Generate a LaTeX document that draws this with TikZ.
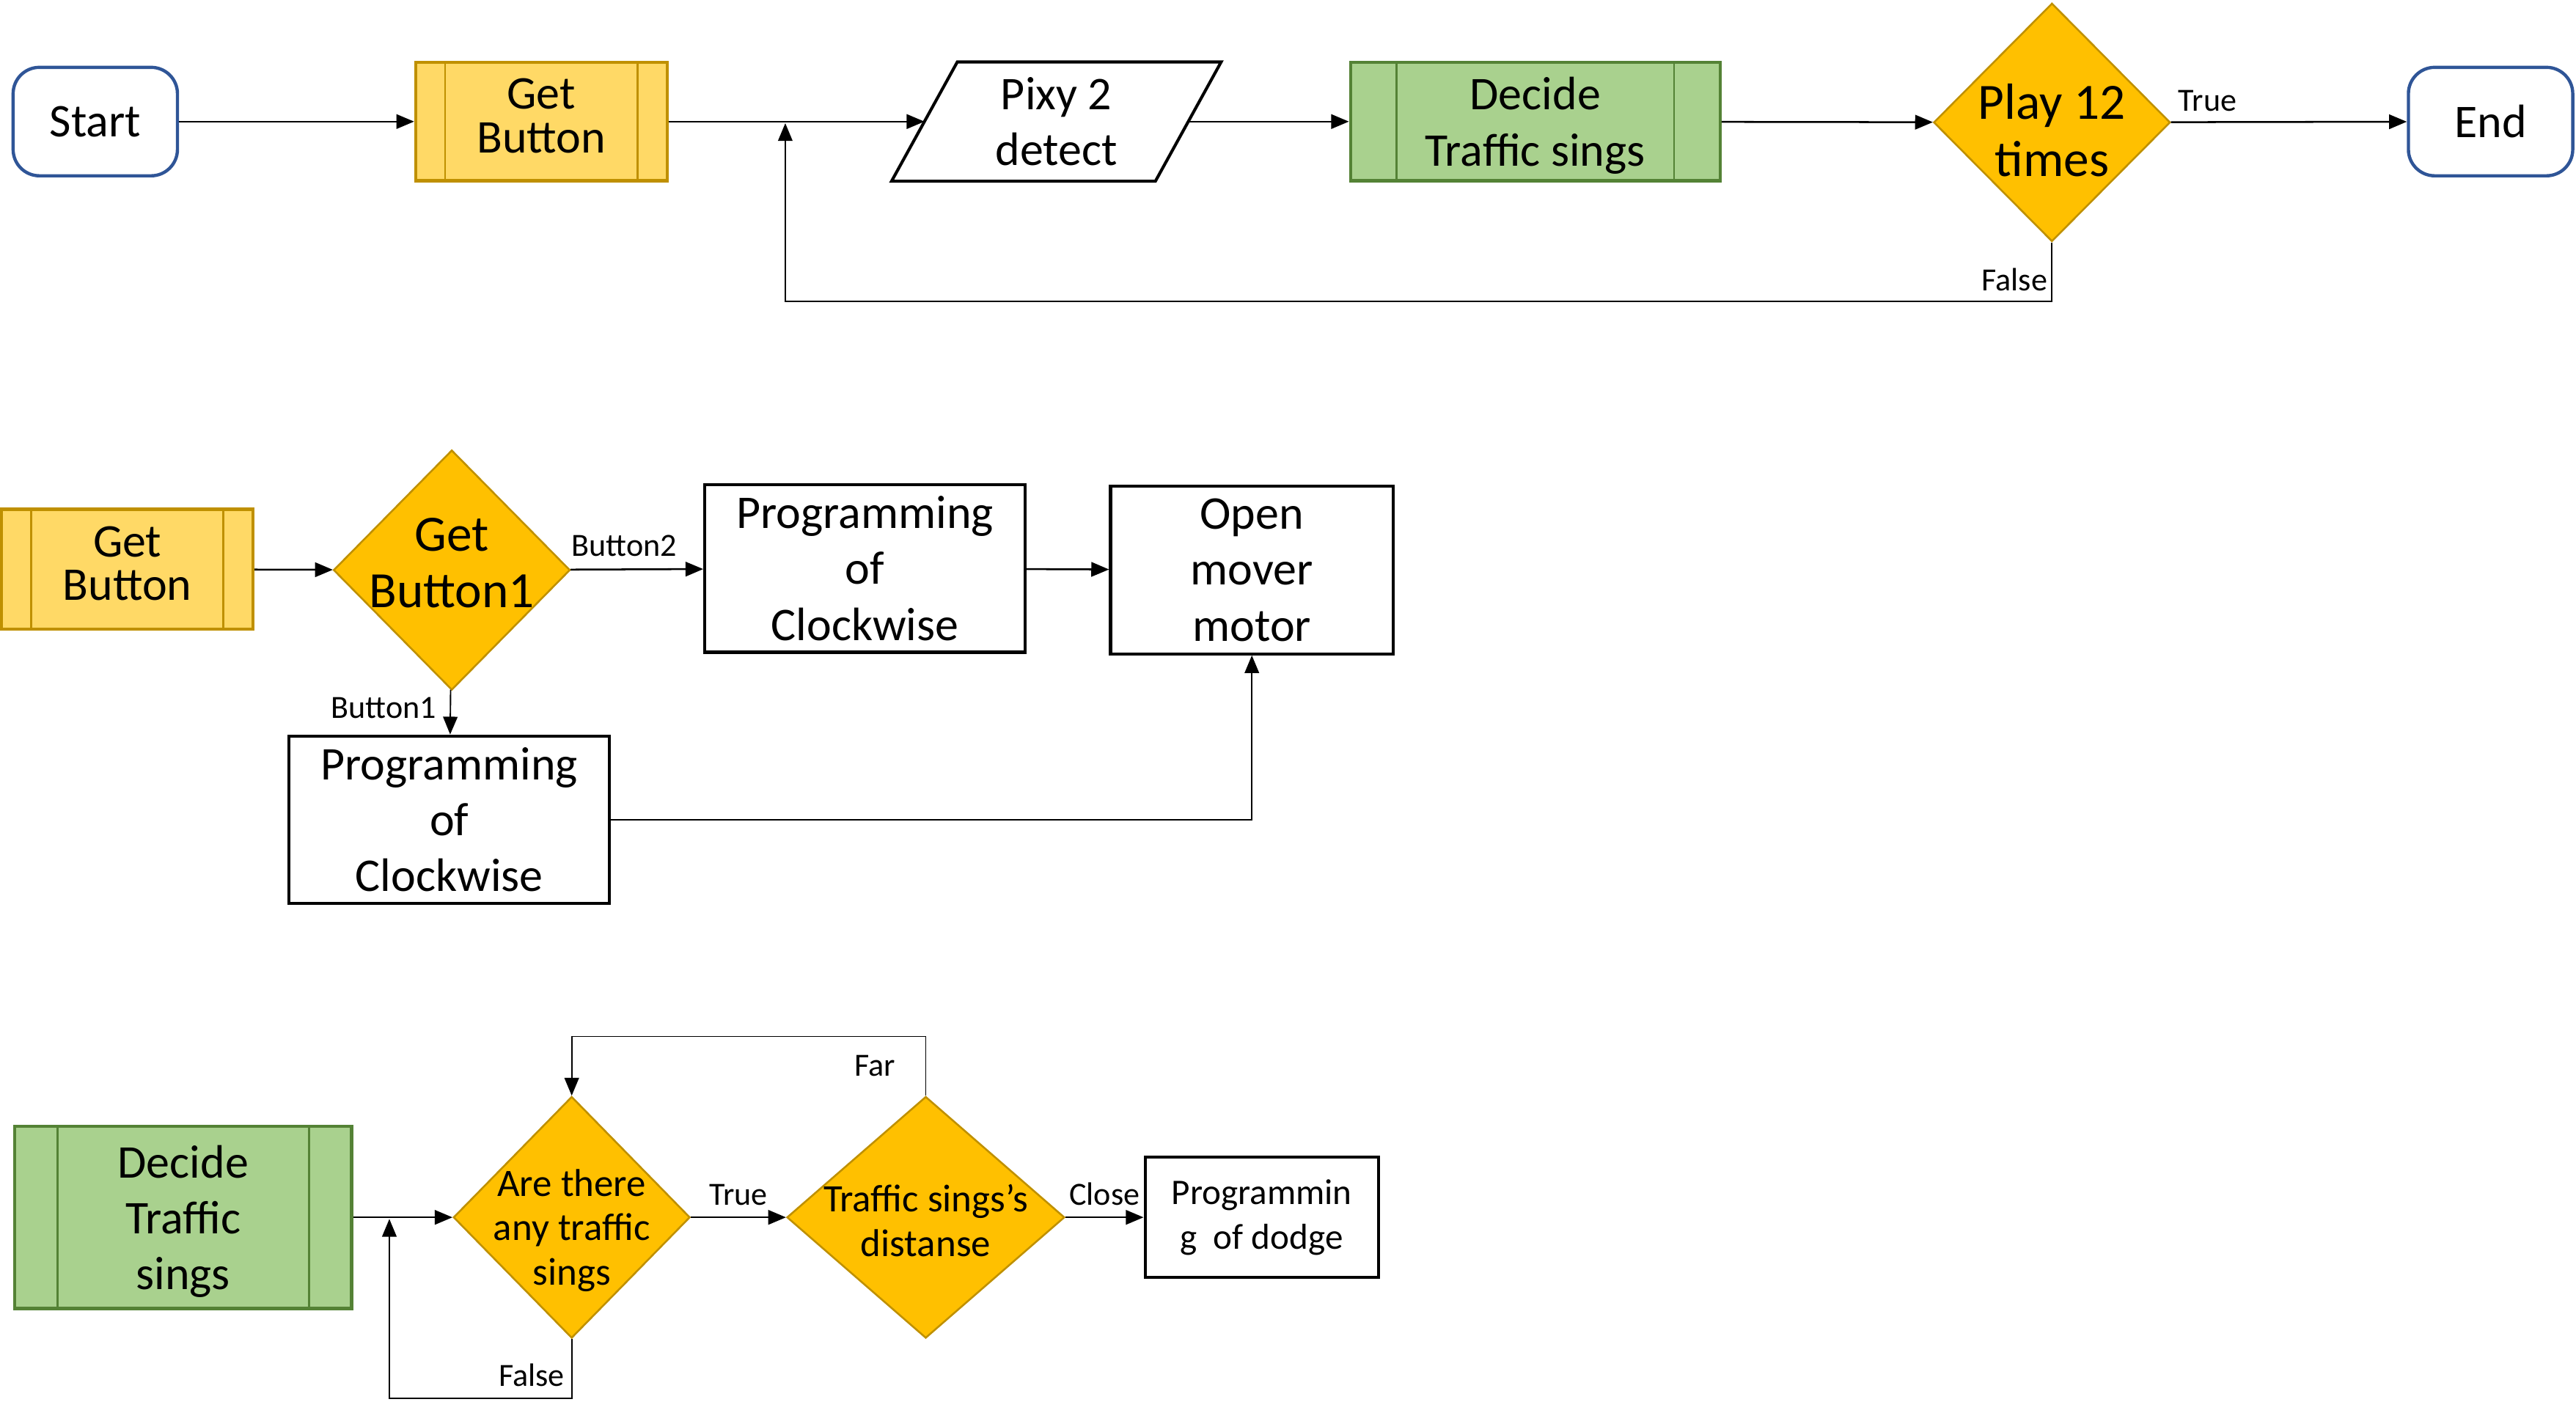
\documentclass[tikz,border=0pt]{standalone}
\usepackage{fontspec}
\setmainfont{Carlito}
\usetikzlibrary{arrows.meta,shapes.geometric}
\definecolor{gold}{HTML}{FFD966}
\definecolor{golddark}{HTML}{BF9000}
\definecolor{amber}{HTML}{FFC000}
\definecolor{leaf}{HTML}{A9D18E}
\definecolor{leafdark}{HTML}{548235}
\definecolor{navy}{HTML}{2F5597}
\newcommand{\boxfont}{\fontsize{20.3}{24.2}\selectfont}
\newcommand{\tightfont}{\fontsize{20.3}{19}\selectfont}
\newcommand{\decfont}{\fontsize{22}{24.5}\selectfont}
\newcommand{\midfont}{\fontsize{16.8}{19.2}\selectfont}
\newcommand{\dodgefont}{\fontsize{15.6}{19.2}\selectfont}
\newcommand{\lblfont}{\fontsize{14}{16}\selectfont}

\begin{document}
\begin{tikzpicture}[x=0.025cm,y=-0.025cm,
		every node/.style={font=\boxfont,align=center,inner sep=0pt},
		term/.style={draw=navy,line width=1.4pt,rounded corners=0.4cm,minimum width=2.5cm,minimum height=1.65cm},
		yel/.style={draw=golddark,fill=gold,line width=1.3pt,minimum width=3.825cm,minimum height=1.8cm,font=\tightfont,text depth=0.18cm,
			path picture={\draw[golddark,line width=0.8pt] ([xshift=0.45cm]path picture bounding box.north west) -- ([xshift=0.45cm]path picture bounding box.south west) ([xshift=-0.45cm]path picture bounding box.north east) -- ([xshift=-0.45cm]path picture bounding box.south east);}},
		grn/.style={draw=leafdark,fill=leaf,line width=1.3pt,text depth=0pt,
			path picture={\draw[leafdark,line width=0.8pt] ([xshift=#1]path picture bounding box.north west) -- ([xshift=#1]path picture bounding box.south west) ([xshift=-#1]path picture bounding box.north east) -- ([xshift=-#1]path picture bounding box.south east);}},
		dec/.style={diamond,draw=golddark,fill=amber,line width=0.8pt},
		box/.style={draw,line width=1.3pt},
		lbl/.style={font=\lblfont},
		>={Triangle[length=0.27cm,width=0.22cm]}]
		\useasboundingbox (0,0) rectangle (1568,860);
		\node[term] (start) at (58,74) {Start};
		\node[yel] (getbtn) at (329.5,74) {Get\\Button};
		\node[minimum width=4cm,minimum height=1.8cm] (pixy) at (643,74) {Pixy 2\\detect};
		\draw[line width=1.3pt] ([xshift=0.5cm]pixy.north west) -- ([xshift=0.5cm]pixy.north east) -- ([xshift=-0.5cm]pixy.south east) -- ([xshift=-0.5cm]pixy.south west) -- cycle;
		\node[grn=0.7cm,minimum width=5.625cm,minimum height=1.8cm] (decide) at (934.5,74) {Decide\\Traffic sings};
		\node[dec,minimum width=3.6cm,minimum height=3.625cm,label={[font=\decfont,yshift=-0.12cm]center:Play 12\\times}] (play) at (1249,74.5) {};
		\node[term] (stop) at (1516,74) {End};
		\coordinate (merge) at (478,75);
		\draw[->,thick] (start) -- (getbtn);
		\draw[->,thick] (getbtn) -- (pixy);
		\draw[->,thick] (pixy) -- (decide);
		\draw[->,thick] (decide) -- (play);
		\draw[->,thick] (play) -- node[lbl,pos=0,anchor=south west,xshift=0.1cm,yshift=0.15cm] {True} (stop);
		\draw[->,semithick] (play.south) -- node[lbl,pos=1,anchor=south east,xshift=-0.06cm,yshift=0.15cm] {False} ++(0,36) -| (merge);

		\node[yel,minimum height=1.825cm] (getbtn2) at (77.5,346.5) {Get\\Button};
		\node[dec,minimum width=3.6cm,minimum height=3.65cm,label={[font=\decfont,yshift=0.11cm]center:Get\\Button1}] (btn) at (275,347) {};
		\node[box,minimum width=4.875cm,minimum height=2.55cm] (cw1) at (526.5,346) {Programming\\of\\Clockwise};
		\node[box,minimum width=4.3cm,minimum height=2.55cm] (motor) at (762,347) {Open\\mover\\motor};
		\node[box,minimum width=4.875cm,minimum height=2.55cm] (cw2) at (273.5,499) {Programming\\of\\Clockwise};
		\draw[->,thick] (getbtn2) -- (btn);
		\draw[->,thick] (btn) -- node[lbl,pos=0,anchor=south west,yshift=0.19cm] {Button2} (cw1);
		\draw[->,thick] (cw1) -- (motor);
		\draw[->,semithick] (btn) -- node[lbl,midway,left=0.2cm,yshift=0.06cm] {Button1} (cw2);
		\draw[->,semithick] (cw2) -| (motor);

		\node[grn=0.65cm,minimum width=5.125cm,minimum height=2.775cm] (decide2) at (111.5,741) {Decide\\Traffic\\sings};
		\node[dec,minimum width=3.6cm,minimum height=3.675cm,label={[font=\midfont,yshift=-0.2cm]center:Are there\\any traffic\\sings}] (any) at (348,741) {};
		\node[dec,minimum width=4.225cm,minimum height=3.675cm,label={[font=\midfont,yshift=-0.05cm]center:Traffic sings’s\\distanse}] (dist) at (563.5,741) {};
		\node[box,minimum width=3.55cm,minimum height=1.825cm,font=\dodgefont] (dodge) at (768,741) {Programmin\\g~~of dodge};
		\coordinate (merge2) at (237,742);
		\draw[->,thick] (decide2) -- (any);
		\draw[->,thick] (any) -- node[lbl,above=0.17cm] {True} (dist);
		\draw[->,thick] (dist) -- node[lbl,above=0.17cm] {Close} (dodge);
		\draw[->,semithick] (any.south) -- node[lbl,pos=1,anchor=south east,xshift=-0.1cm,yshift=0.17cm] {False} ++(0,36) -| (merge2);
		\draw[->,semithick] (dist.north) -- node[lbl,midway,left=0.45cm] {Far} ++(0,-36) -| (any.north);
	\end{tikzpicture}
\end{document}
